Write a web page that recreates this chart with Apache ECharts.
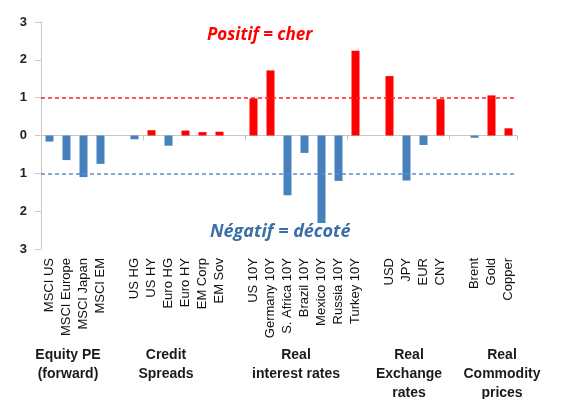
<!DOCTYPE html>
<html><head><meta charset="utf-8">
<script src="https://cdn.jsdelivr.net/npm/echarts@6/dist/echarts.min.js"></script>
<style>html,body{margin:0;padding:0;background:#fff}#c{width:563px;height:399px}</style>
</head><body><div id="c"></div>
<script>
const categories = ['MSCI US','MSCI Europe','MSCI Japan','MSCI EM','',
  'US HG','US HY','Euro HG','Euro HY','EM Corp','EM Sov','',
  'US 10Y','Germany 10Y','S. Africa 10Y','Brazil 10Y','Mexico 10Y','Russia 10Y','Turkey 10Y','',
  'USD','JPY','EUR','CNY','',
  'Brent','Gold','Copper'];
const values = [-0.16,-0.65,-1.1,-0.75,null,
  -0.1,0.14,-0.27,0.13,0.09,0.1,null,
  0.98,1.72,-1.58,-0.46,-2.31,-1.2,2.24,null,
  1.57,-1.19,-0.25,0.96,null,
  -0.06,1.06,0.19];
const yTicks = [-3,-2,-1,0,1,2,3];
const groupLabels = ['Equity PE\n(forward)','Credit\nSpreads','Real\ninterest rates','Real\nExchange\nrates','Real\nCommodity\nprices'];
const groupCenters = [68,166,296,409,502];
const thresholds = [1,-1];

const RED = '#ff0000', BLUE = '#4680bd';
const chart = echarts.init(document.getElementById('c'), null, {renderer:'canvas'});
const groupText = groupLabels.map((t,i)=>({
  type:'text', x: groupCenters[i], y: 346,
  style:{text:t, font:'bold 14px "Liberation Sans", Arial, sans-serif', fill:'#1a1a1a', align:'center', textAlign:'center', lineHeight:19},
}));
chart.setOption({
  animation:false,
  grid:{left:41,right:46,top:22,bottom:150},
  xAxis:[{
    type:'category', data:categories, position:'bottom',
    axisLine:{show:false,onZero:false}, axisTick:{show:false},
    axisLabel:{rotate:90, interval:0, margin:9, color:'#111', fontSize:13, fontFamily:'"Liberation Sans", Arial, sans-serif'}
  },{
    type:'category', data:categories, position:'top',
    axisLine:{show:true,onZero:true,lineStyle:{color:'#c8c8c8',width:1}},
    axisTick:{show:true,inside:true,length:5,lineStyle:{color:'#c8c8c8'}},
    axisLabel:{show:false}
  }],
  yAxis:{
    type:'value', min:-3, max:3, interval:1,
    axisLine:{show:true,lineStyle:{color:'#c8c8c8'}},
    axisTick:{show:true,length:6,lineStyle:{color:'#c8c8c8'}},
    splitLine:{show:false},
    axisLabel:{formatter:v=>String(Math.abs(v)), color:'#222', fontWeight:'bold', fontSize:13, margin:14, fontFamily:'"Liberation Sans", Arial, sans-serif'}
  },
  series:[{
    type:'bar', xAxisIndex:0, barWidth:8,
    data: values.map(v=> v===null ? null : {value:v, itemStyle:{color: v>=0 ? RED : BLUE}}),
    markLine:{
      silent:true, symbol:'none', label:{show:false},
      data: thresholds.map(t=>({yAxis:t, lineStyle:{color: t>0 ? '#ff2020' : '#5a8fc8', type:[4,3], width:1.5}}))
    }
  }],
  graphic:[
    {type:'text', left:207, top:27,
     style:{text:'Positif = cher', font:'italic bold 17px "Open Sans", "Liberation Sans", sans-serif', fill:RED}},
    {type:'text', left:210, top:223,
     style:{text:'Négatif = décoté', font:'italic bold 18px "Open Sans", "Liberation Sans", sans-serif', fill:'#3a6ea8'}},
    ...groupText
  ]
});
</script></body></html>
